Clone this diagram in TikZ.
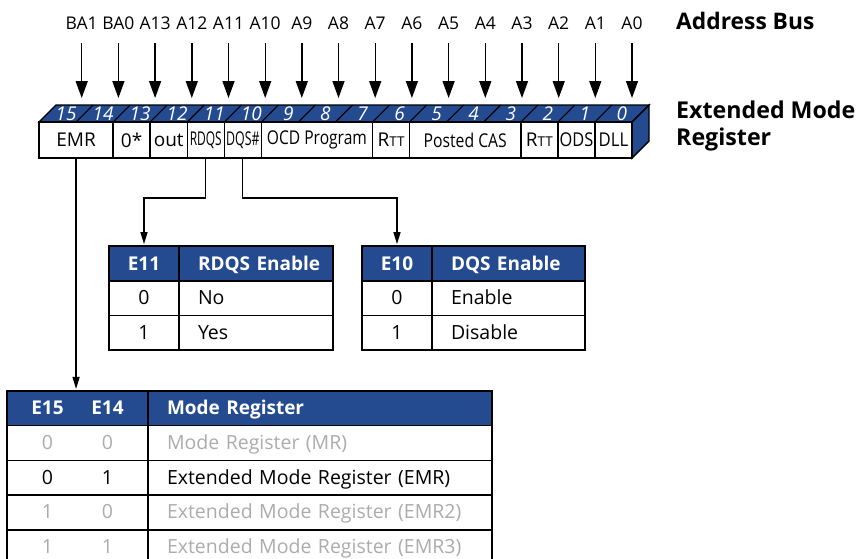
\documentclass[tikz,border=0pt]{standalone}
\usepackage{fontspec}
\setmainfont{Open Sans}
\usepackage{graphicx}
\usetikzlibrary{positioning,arrows.meta}
\definecolor{regblue}{RGB}{36,74,143}
\definecolor{offgray}{RGB}{172,172,172}
\newcommand\rtt{{\fontsize{13.5}{15}\selectfont TT}}
\newcommand\narrow[2]{\scalebox{#1}[1]{#2}}

\begin{document}
\begin{tikzpicture}[x=1pt,y=-1pt,
  bus/.style={font=\fontsize{17.5}{20}\selectfont, minimum height=40pt, inner sep=0pt},
  busarrow/.style={-{Triangle[length=17pt,width=12pt]}, line width=1.4pt},
  field/.style={draw, fill=white, line width=1.4pt, minimum width=#1*37.0625pt, minimum height=36pt, inner sep=0pt, outer sep=0pt, font=\fontsize{19}{21}\selectfont},
  bitno/.style={text=white, font=\fontsize{19}{21}\selectfont\itshape, inner sep=0pt},
  tcell/.style={draw, line width=1.6pt, minimum height=34.7pt, text height=16pt, text depth=3pt, inner sep=0pt, outer sep=0pt, font=\fontsize{19.5}{22}\selectfont},
  tleft/.style={tcell, text width=#1, inner xsep=19pt, align=left},
  thead/.style={fill=regblue, text=white, font=\fontsize{19}{22}\selectfont\bfseries},
  off/.style={text=offgray},
  link/.style={-{Triangle[length=12pt,width=7pt]}, line width=1.3pt, shorten >=2pt}]

\path[use as bounding box, fill=white] (0,0) rectangle (862,558);

% address bus
\node[bus] (ba1) at (81.7,23) {BA1};
\node[bus] (ba0) at (118.4,23) {BA0};
\node[bus] (a13) at (155.1,23) {A13};
\node[bus] (a12) at (191.8,23) {A12};
\node[bus] (a11) at (228.5,23) {A11};
\node[bus] (a10) at (265.2,23) {A10};
\node[bus] (a9) at (301.8,23) {A9};
\node[bus] (a8) at (338.5,23) {A8};
\node[bus] (a7) at (375.2,23) {A7};
\node[bus] (a6) at (411.9,23) {A6};
\node[bus] (a5) at (448.6,23) {A5};
\node[bus] (a4) at (485.3,23) {A4};
\node[bus] (a3) at (522.0,23) {A3};
\node[bus] (a2) at (558.7,23) {A2};
\node[bus] (a1) at (595.3,23) {A1};
\node[bus] (a0) at (632.0,23) {A0};
\coordinate (bustop) at (0,98);
\foreach \a in {ba1,ba0,a13,a12,a11,a10,a9,a8,a7,a6,a5,a4,a3,a2,a1,a0}
  \draw[busarrow] (\a) -- (\a |- bustop);

\node[anchor=west, inner sep=0pt, font=\fontsize{22.8}{27}\selectfont\bfseries] (busname) at (676,21) {Address Bus};
\node[anchor=west, inner sep=0pt, align=left, font=\fontsize{23.2}{27}\selectfont\bfseries] (regname) at (676,126) {Extended Mode\\Register};

% register: top and side faces
\draw[fill=regblue, line width=1.4pt] (39,122) -- (56,105) -- (649,105) -- (632,122) -- cycle;
\draw[fill=regblue, line width=1.4pt] (632,122) -- (649,105) -- (649,141) -- (632,158) -- cycle;
\foreach \i in {1,...,15}
  \draw[line width=1.1pt] (39+\i*37.0625,122) -- ++(17,-17);
\foreach \b [count=\i from 0] in {15,14,...,0}
  \node[bitno] (bit\b) at (66+\i*37.0625,113.5) {\b};

% register: front fields
\node[field=2, anchor=west] (emr) at (39,140) {EMR};
\node[field=1, right=0pt of emr] (zero) {0*};
\node[field=1, right=0pt of zero] (out) {out};
\node[field=1, right=0pt of out] (rdqs) {\narrow{0.63}{RDQS}};
\node[field=1, right=0pt of rdqs] (dqs) {\narrow{0.65}{DQS\#}};
\node[field=3, right=0pt of dqs] (ocd) {\narrow{0.82}{OCD Program}};
\node[field=1, right=0pt of ocd] (rtta) {R\rtt};
\node[field=3, right=0pt of rtta] (cas) {\narrow{0.83}{Posted CAS}};
\node[field=1, right=0pt of cas] (rttb) {R\rtt};
\node[field=1, right=0pt of rttb] (ods) {\narrow{0.86}{ODS}};
\node[field=1, right=0pt of ods] (dll) {\narrow{0.88}{DLL}};

% RDQS table
\node[tcell, thead, minimum width=70pt] (e11) at (144,263.5) {E11};
\node[tleft=116pt, thead, right=0pt of e11] (e11t) {\mbox{RDQS Enable}};
\node[tcell, minimum width=70pt, below=0pt of e11] (e11a) {0};
\node[tleft=116pt, right=0pt of e11a] (e11at) {No};
\node[tcell, minimum width=70pt, below=0pt of e11a] (e11b) {1};
\node[tleft=116pt, right=0pt of e11b] (e11bt) {Yes};

% DQS table
\node[tcell, thead, minimum width=70pt] (e10) at (397,263.5) {E10};
\node[tleft=115pt, thead, right=0pt of e10] (e10t) {\mbox{DQS Enable}};
\node[tcell, minimum width=70pt, below=0pt of e10] (e10a) {0};
\node[tleft=115pt, right=0pt of e10a] (e10at) {Enable};
\node[tcell, minimum width=70pt, below=0pt of e10a] (e10b) {1};
\node[tleft=115pt, right=0pt of e10b] (e10bt) {Disable};

% mode register table
\node[tcell, thead, minimum width=141pt] (e15) at (77.5,408.3) {\makebox[60pt]{E15}\makebox[60pt]{E14}};
\node[tleft=306pt, thead, right=0pt of e15] (e15t) {Mode Register};
\node[tcell, off, minimum width=141pt, below=0pt of e15] (mr0) {\makebox[60pt]{0}\makebox[60pt]{0}};
\node[tleft=306pt, off, right=0pt of mr0] (mr0t) {Mode Register (MR)};
\node[tcell, minimum width=141pt, below=0pt of mr0] (mr1) {\makebox[60pt]{0}\makebox[60pt]{1}};
\node[tleft=306pt, right=0pt of mr1] (mr1t) {\mbox{Extended Mode Register (EMR)}};
\node[tcell, off, minimum width=141pt, below=0pt of mr1] (mr2) {\makebox[60pt]{1}\makebox[60pt]{0}};
\node[tleft=306pt, off, right=0pt of mr2] (mr2t) {\mbox{Extended Mode Register (EMR2)}};
\node[tcell, off, minimum width=141pt, below=0pt of mr2] (mr3) {\makebox[60pt]{1}\makebox[60pt]{1}};
\node[tleft=306pt, off, right=0pt of mr3] (mr3t) {\mbox{Extended Mode Register (EMR3)}};

% links from the fields
\coordinate (split) at (0,198);
\draw[link] (emr.south) -- (emr.south |- e15.north);
\draw[link] (rdqs.south) -- (rdqs.south |- split) -| (e11.north);
\draw[link] (dqs.south) -- (dqs.south |- split) -| (e10.north);
\end{tikzpicture}
\end{document}
